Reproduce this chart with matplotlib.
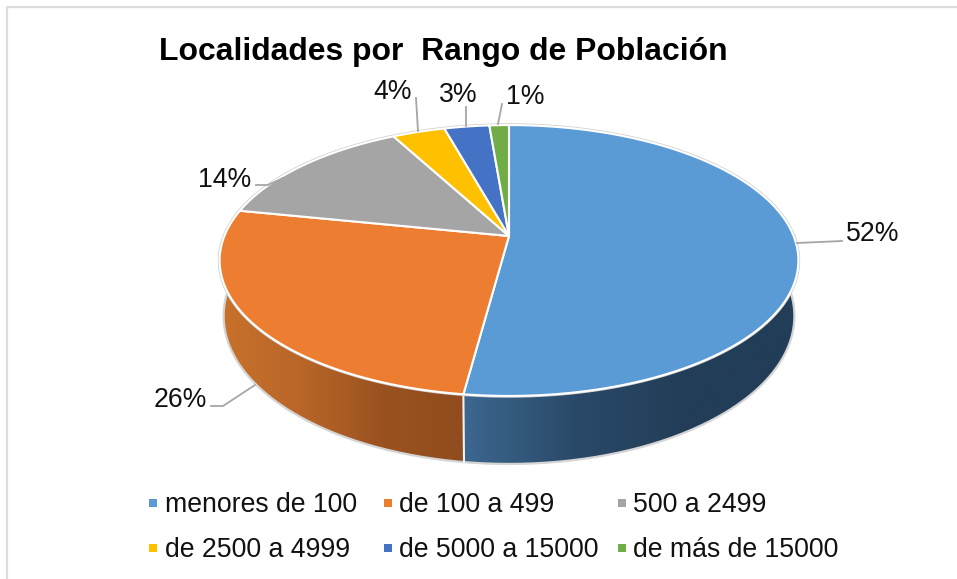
import numpy as np
import matplotlib
matplotlib.use("Agg")
import matplotlib.pyplot as plt
from matplotlib.colors import LinearSegmentedColormap
from matplotlib.patches import Polygon

plt.rcParams['font.family'] = ['Liberation Sans', 'DejaVu Sans']

categorias = ['menores de 100', 'de 100 a 499', '500 a 2499',
              'de 2500 a 4999', 'de 5000 a 15000', 'de más de 15000']
valores = [52.1, 26.1, 14.0, 3.5, 3.0, 1.3]
etiquetas = ['52%', '26%', '14%', '4%', '3%', '1%']
colores = ['#5B9BD5', '#ED7D31', '#A5A5A5', '#FFC000', '#4472C4', '#70AD47']

# lados: solo azul y naranja se ven
lado_azul = ['#3d6891', '#2a4a69', '#223d57', '#223d57']
lado_naranja = ['#c9722c', '#b96628', '#9a5220', '#8f4c1e']

titulo = 'Localidades por  Rango de Población'

# geometria del pastel en pixeles
cx, cy = 509, 236
rx, ry, k = 284.6, 131, 0.181


def tapa(a):
    a = np.radians(a)
    w = 1 + k * np.sin(a)
    return cx + rx * np.cos(a) / w, cy - ry * np.sin(a) / w


def base(a):
    x, y = tapa(a)
    return cx + (x - cx) * 286 / 290, 316 + (y - 260.5) * 148 / 135.5


def lado(a1, a2, colores_lado, x1, x2):
    # gradiente horizontal recortado a la pared
    a = np.linspace(a1, a2, 300)
    xt, yt = tapa(a)
    xb, yb = base(a)
    pts = np.c_[np.r_[xt, xb[::-1]], np.r_[yt, yb[::-1]]]
    cm = LinearSegmentedColormap.from_list('lado', colores_lado)
    im = ax.imshow(np.linspace(0, 1, 256).reshape(1, -1), cmap=cm, aspect='auto',
                   extent=[x1, x2, 480, 200], zorder=2, interpolation='bilinear')
    pol = Polygon(pts, closed=True, transform=ax.transData, facecolor='none', edgecolor='none')
    ax.add_patch(pol)
    im.set_clip_path(pol)


fig = plt.figure(figsize=(9.57, 5.79), dpi=100)
ax = fig.add_axes([0, 0, 1, 1])

# borde del grafico
ax.plot([7, 7, 957], [579, 6.5, 6.5], color='#dcdcdc', lw=1.6)

# angulos de cada rebanada, sentido horario desde arriba
cortes = 90 - np.cumsum([0] + valores) * 3.6

# pared lateral
a_limite = cortes[1]
lado(a_limite, 12, lado_azul, 460, 800)
lado(-197, a_limite, lado_naranja, 215, 468)

# silueta gris clara
a_sil = np.linspace(-197, 12, 300)
xb, yb = base(a_sil)
ax.plot(xb, yb, color='#d4d4d4', lw=1.6, zorder=3)

xl1, yl1 = tapa(a_limite)
xl2, yl2 = base(a_limite)
ax.plot([xl1, xl2], [yl1, yl2], color='#f2f2f2', lw=1.5, zorder=3)

# contorno exterior de la tapa
a_c = np.linspace(0, 360, 500)
xc, yc = tapa(a_c)
ax.plot(xc, yc, color='#cfcfcf', lw=2.6, zorder=3)

# tapa
for i, c in enumerate(colores):
    a = np.linspace(cortes[i], cortes[i + 1], 120)
    xs, ys = tapa(a)
    ax.fill(np.r_[cx, xs], np.r_[cy, ys], facecolor=c, edgecolor='white',
            lw=1.5, joinstyle='round', zorder=4)

# lineas guia
guias = [([797, 842], [243, 241]),
         ([255, 223, 211], [385, 406, 406]),
         ([283, 268, 256], [178, 185, 185]),
         ([416, 418], [98, 131]),
         ([466, 466], [107, 126]),
         ([502, 498], [104, 124])]
for gx, gy in guias:
    ax.plot(gx, gy, color='#a6a6a6', lw=1.3, zorder=5)

# etiquetas
pos_etq = [(873, 234), (180, 400), (225, 180), (393, 92), (458, 95), (525, 97)]
for (x, y), e in zip(pos_etq, etiquetas):
    ax.text(x, y, e, fontsize=19.2, ha='center', va='center', color='#111111')

ax.text(443, 52, titulo, fontsize=22.96, fontweight='bold', ha='center',
        va='center', color='black')

# leyenda
pos_ley = [(153, 503, 165), (388, 503, 399), (622, 503, 633),
           (153, 548, 165), (388, 548, 399), (622, 548, 633)]
for (x, y, xt), c, t in zip(pos_ley, colores, categorias):
    ax.scatter([x], [y], marker='s', s=34, color=c, linewidths=0)
    ax.text(xt, y + 2, t, fontsize=19.2, ha='left', va='center', color='#111111')

ax.set_xlim(0, 957)
ax.set_ylim(579, 0)
ax.axis('off')

fig.savefig('out.png', dpi=100)
